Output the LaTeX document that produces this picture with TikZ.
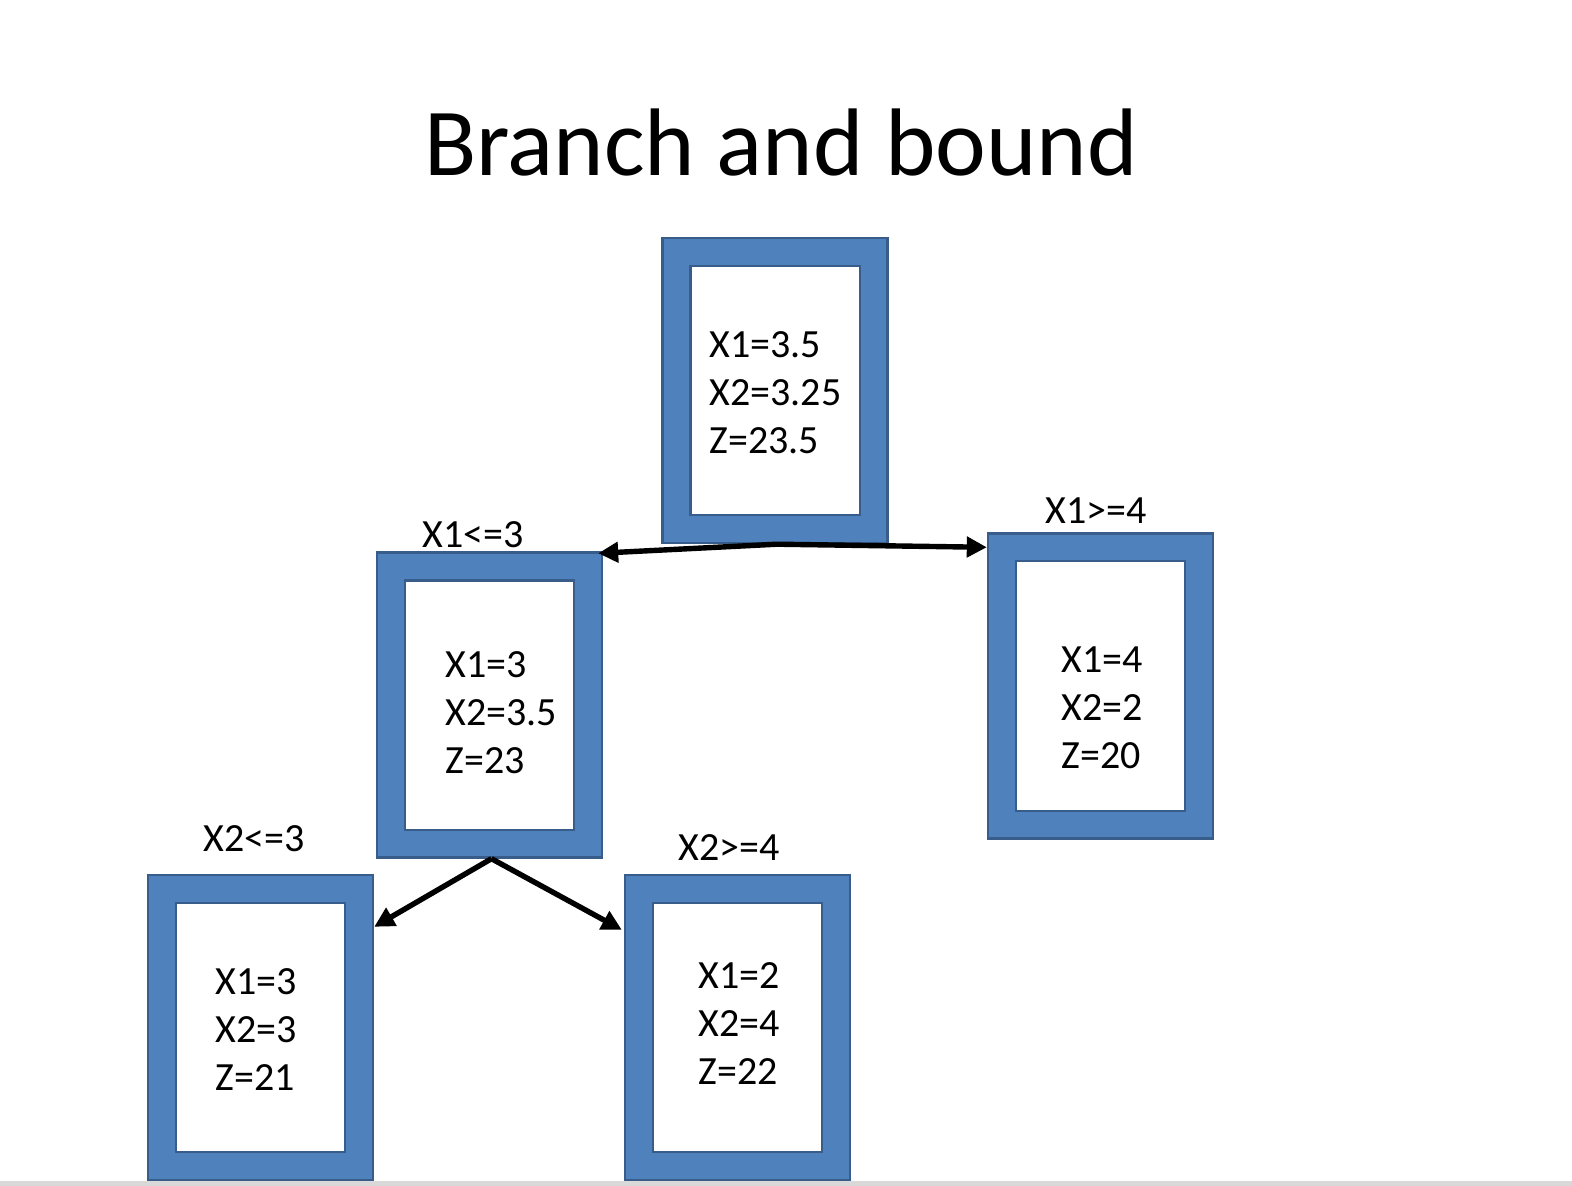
\documentclass[tikz,border=0pt]{standalone}
\usepackage{fontspec}
\setmainfont{Carlito}
\usetikzlibrary{calc,arrows.meta}
\definecolor{boxblue}{HTML}{4F81BD}
\definecolor{boxedge}{HTML}{385D8A}
\definecolor{slideedge}{HTML}{D9D9D9}
\tikzset{
  outerbox/.style={draw=boxedge, fill=boxblue, line width=1.2pt, rectangle,
    minimum width=112.5pt, minimum height=152.5pt, inner sep=0pt},
  innerbox/.style={draw=boxedge, fill=white, line width=1.2pt},
  val/.style={anchor=west, align=left, font=\fontsize{20}{24}\selectfont, inner sep=0pt},
  lbl/.style={font=\fontsize{20}{24}\selectfont, inner sep=0pt},
  arr/.style={line width=2.7pt, -{Triangle[length=10pt,width=10pt]}},
}
\newcommand{\innerframe}[1]{%
  \draw[innerbox] ($(#1.north west)+(29,29)$) rectangle ($(#1.south east)+(-29,-29)$);}
\begin{document}
\begin{tikzpicture}[x=0.5pt,y=-0.5pt]
\useasboundingbox (0,0) rectangle (1572,1186);
\fill[white] (0,0) rectangle (1572,1186);
\fill[slideedge] (0,1181) rectangle (1572,1186);

\node[font=\fontsize{48}{58}\selectfont, inner sep=0pt] (title) at (781,143) {Branch and bound};

\node[outerbox] (root) at (775,390.5) {};
\innerframe{root}
\node[val] (rootv) at (709,393) {X1=3.5\\X2=3.25\\Z=23.5};

\node[outerbox] (left) at (489.5,705) {};
\innerframe{left}
\node[val] (leftv) at (445,713) {X1=3\\X2=3.5\\Z=23};

\node[outerbox] (right) at (1100.5,686) {};
\innerframe{right}
\node[val] (rightv) at (1061,708) {X1=4\\X2=2\\Z=20};

\node[outerbox] (ll) at (260.5,1027.5) {};
\innerframe{ll}
\node[val] (llv) at (215,1030) {X1=3\\X2=3\\Z=21};

\node[outerbox] (lr) at (737.5,1027.5) {};
\innerframe{lr}
\node[val] (lrv) at (698,1024) {X1=2\\X2=4\\Z=22};

\node[lbl] (l1) at (473,535) {X1<=3};
\node[lbl] (l2) at (1096,511) {X1>=4};
\node[lbl] (l3) at (254,839) {X2<=3};
\node[lbl] (l4) at (729,848) {X2>=4};

\coordinate (rj) at ($(root.south)+(2,0)$);
\draw[arr] (rj) -- ($(left.north east)+(-5,2)$);
\draw[arr] (rj) -- ($(right.north west)+(0,15)$);
\coordinate (lj) at ($(left.south)+(2,0)$);
\draw[arr] (lj) -- ($(ll.north east)+(0,53)$);
\draw[arr] (lj) -- ($(lr.north west)+(-2,56)$);
\end{tikzpicture}
\end{document}
